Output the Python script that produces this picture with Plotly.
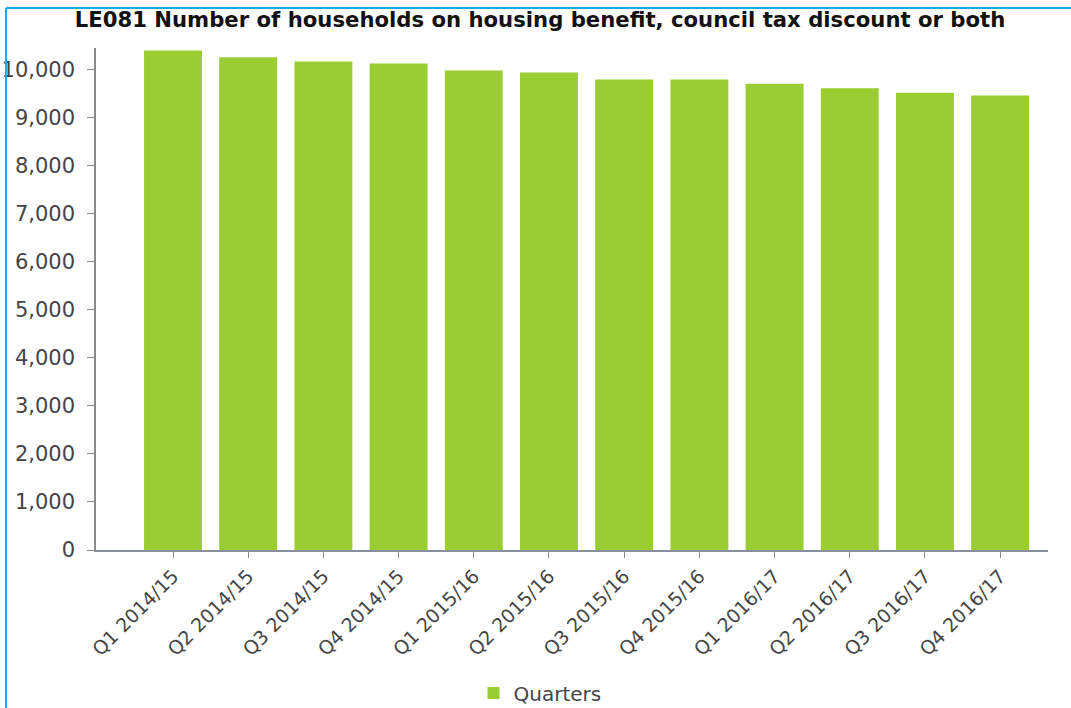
import plotly.graph_objects as go

# Quarterly counts of households on housing benefit / council tax discount
quarters = [
    "Q1 2014/15", "Q2 2014/15", "Q3 2014/15", "Q4 2014/15",
    "Q1 2015/16", "Q2 2015/16", "Q3 2015/16", "Q4 2015/16",
    "Q1 2016/17", "Q2 2016/17", "Q3 2016/17", "Q4 2016/17",
]
households = [10387, 10250, 10158, 10117, 9971, 9929, 9784, 9784, 9694, 9604, 9507, 9451]
y_ticks = list(range(0, 10001, 1000))
y_tick_text = [f"{v:,}" for v in y_ticks]

W, H = 1071, 708
ML, MR, MT, MB = 96, 23, 48, 158
plot_w = W - ML - MR
plot_h = H - MT - MB

BAR_GREEN = "#9acd32"
TEXT = "#454545"
FRAME_BLUE = "#1ba9ee"

fig = go.Figure(
    go.Bar(
        x=list(range(len(quarters))),
        y=households,
        name="Quarters",
        marker=dict(color=BAR_GREEN, line=dict(width=0)),
        width=0.77,
        showlegend=True,
    )
)

# frame lines (left and top edge) in paper coordinates
fx = (6 - ML) / plot_w
fy = 1 + (MT - 8) / plot_h
fig.add_shape(type="line", xref="paper", yref="paper", x0=fx, x1=fx, y0=-2, y1=fy,
              line=dict(color=FRAME_BLUE, width=2))
fig.add_shape(type="line", xref="paper", yref="paper", x0=fx, x1=1.2, y0=fy, y1=fy,
              line=dict(color=FRAME_BLUE, width=2))

fig.update_layout(
    width=W,
    height=H,
    margin=dict(l=ML, r=MR, t=MT, b=MB, pad=0, autoexpand=False),
    paper_bgcolor="white",
    plot_bgcolor="white",
    font=dict(family="DejaVu Sans", size=19, color=TEXT),
    title=dict(
        text="<b>LE081 Number of households on housing benefit, council tax discount or both</b>",
        x=540 / W,
        xanchor="center",
        xref="container",
        y=1 - 20 / H,
        yanchor="middle",
        font=dict(family="DejaVu Sans", size=21.2, color="#111111"),
    ),
    xaxis=dict(
        range=[-1.024, 11.636],
        tickmode="array",
        tickvals=list(range(len(quarters))),
        ticktext=quarters,
        tickangle=-45,
        ticks="outside",
        ticklen=6,
        tickcolor="#8a8a8a",
        showline=True,
        linecolor="#8a8fa0",
        linewidth=1.5,
        showgrid=False,
        zeroline=False,
        automargin=False,
        tickfont=dict(family="DejaVu Sans", size=19, color=TEXT),
    ),
    yaxis=dict(
        range=[0, 10440],
        tickmode="array",
        tickvals=y_ticks,
        ticktext=y_tick_text,
        ticks="outside",
        ticklen=7,
        tickcolor="#8a8a8a",
        showline=True,
        linecolor="#8a8a8a",
        linewidth=1.5,
        showgrid=False,
        zeroline=False,
        automargin=False,
        ticklabelstandoff=8,
        tickfont=dict(family="DejaVu Sans", size=21, color=TEXT),
    ),
    legend=dict(
        orientation="h",
        x=(540 - ML) / plot_w,
        xanchor="center",
        y=-(693 - (H - MB)) / plot_h,
        yanchor="middle",
        font=dict(family="DejaVu Sans", size=20, color=TEXT),
        itemwidth=30,
    ),
    bargap=0.23,
)

fig.write_html("out.html")
